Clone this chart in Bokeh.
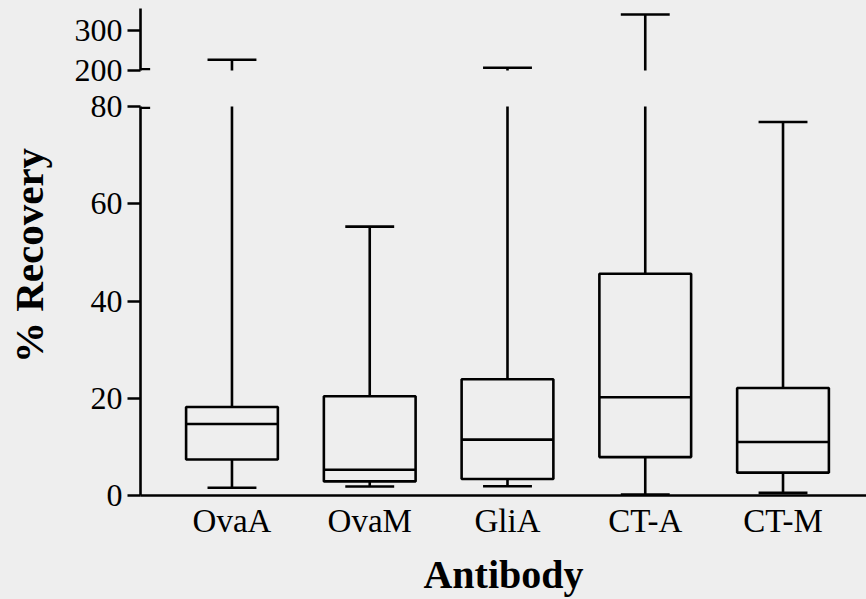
import math
from bokeh.plotting import figure
from bokeh.layouts import column, row
from bokeh.models import Range1d, FixedTicker
from bokeh.core.properties import value
from bokeh.embed import file_html
from bokeh.resources import INLINE

# ---- data ----
antibodies = ["OvaA", "OvaM", "GliA", "CT-A", "CT-M"]
whisker_min = [1.6, 1.85, 1.9, 0.2, 0.55]
q1 = [7.4, 2.9, 3.4, 7.9, 4.7]
median = [14.7, 5.3, 11.5, 20.2, 11.0]
q3 = [18.2, 20.4, 23.9, 45.6, 22.1]
whisker_max = [227, 55.3, 207, 340, 76.8]
lower_ticks = [0, 20, 40, 60, 80]
upper_ticks = [200, 300]
lower_limits = (0, 80)
upper_limits = (200, 355)
y_title = "% Recovery"
x_title = "Antibody"

# ---- style / layout (pixels) ----
BG = "#eeeeee"
FONT = "Liberation Serif"
LW = 2.6
BOX_W = 0.666
CAP_W = 0.355
TOTAL_W = 866
TOTAL_H = 599
TITLE_W = 55          # strip holding the y title
W = TOTAL_W - TITLE_W
LEFT = 140 - TITLE_W  # frame left edge sits at page x = 140
TOP_BORDER = 8
TOP_FRAME_H = 62
GAP_TOP = 18
GAP_BOT = 18
LOW_FRAME_H = 389
BOTTOM = 104
TITLE_CX = 28         # page x of the y-title centre
TITLE_CY = 255        # page y of the y-title centre (middle of the whole broken axis)

pos = [i + 1 for i in range(len(antibodies))]
x_range = Range1d(0.336, 5.606)


def style_y(p, ticks):
    ax = p.yaxis[0]
    ax.ticker = FixedTicker(ticks=ticks, minor_ticks=[])
    ax.axis_line_width = LW
    ax.axis_line_color = "black"
    ax.major_tick_line_width = LW
    ax.major_tick_line_color = "black"
    ax.major_tick_out = 13
    ax.major_tick_in = 0
    ax.minor_tick_line_color = None
    ax.major_label_text_font = FONT
    ax.major_label_text_font_size = "32px"
    ax.major_label_text_color = "black"
    ax.major_label_standoff = 5


def make_fig(height, y_lim, border_top, border_bottom, with_x):
    p = figure(width=W, height=height, x_range=x_range,
               y_range=Range1d(*y_lim),
               output_backend="svg", toolbar_location=None,
               x_axis_location="below" if with_x else None,
               min_border_left=LEFT, min_border_right=0,
               min_border_top=border_top, min_border_bottom=border_bottom)
    p.background_fill_color = BG
    p.border_fill_color = BG
    p.outline_line_color = None
    p.grid.visible = False
    # boxes
    p.quad(left=[x - BOX_W / 2 for x in pos], right=[x + BOX_W / 2 for x in pos],
           bottom=q1, top=q3, fill_color=None, line_color="black", line_width=LW)
    # medians
    p.segment(x0=[x - BOX_W / 2 for x in pos], x1=[x + BOX_W / 2 for x in pos],
              y0=median, y1=median, line_color="black", line_width=LW)
    # whiskers
    p.segment(x0=pos, x1=pos, y0=q3, y1=whisker_max, line_color="black", line_width=LW)
    p.segment(x0=pos, x1=pos, y0=q1, y1=whisker_min, line_color="black", line_width=LW)
    # caps
    p.segment(x0=[x - CAP_W / 2 for x in pos], x1=[x + CAP_W / 2 for x in pos],
              y0=whisker_max, y1=whisker_max, line_color="black", line_width=LW)
    p.segment(x0=[x - CAP_W / 2 for x in pos], x1=[x + CAP_W / 2 for x in pos],
              y0=whisker_min, y1=whisker_min, line_color="black", line_width=LW)
    return p


top = make_fig(TOP_BORDER + TOP_FRAME_H + GAP_TOP, upper_limits, TOP_BORDER, GAP_TOP, False)
style_y(top, upper_ticks)

low = make_fig(GAP_BOT + LOW_FRAME_H + BOTTOM, lower_limits, GAP_BOT, BOTTOM, True)
style_y(low, lower_ticks)

xa = low.xaxis[0]
xa.ticker = FixedTicker(ticks=pos, minor_ticks=[])
xa.major_label_overrides = {p_: name for p_, name in zip(pos, antibodies)}
xa.axis_line_width = LW
xa.axis_line_color = "black"
xa.major_tick_line_color = None
xa.minor_tick_line_color = None
xa.major_tick_out = 0
xa.major_tick_in = 0
xa.major_label_text_font = FONT
xa.major_label_text_font_size = "33px"
xa.major_label_text_color = "black"
xa.major_label_standoff = 7
xa.axis_label = x_title
xa.axis_label_text_font = FONT
xa.axis_label_text_font_style = "bold"
xa.axis_label_text_font_size = "40px"
xa.axis_label_text_color = "black"
xa.axis_label_standoff = 10

# inward break marks at the ends of the two y-axis segments
inw = 0.07
half_lw_low = (LW / 2) * (lower_limits[1] - lower_limits[0]) / LOW_FRAME_H
half_lw_top = (LW / 2) * (upper_limits[1] - upper_limits[0]) / TOP_FRAME_H
low.segment(x0=[x_range.start], x1=[x_range.start + inw],
            y0=[lower_limits[1] - half_lw_low], y1=[lower_limits[1] - half_lw_low],
            line_color="black", line_width=LW)
top.segment(x0=[x_range.start], x1=[x_range.start + inw],
            y0=[upper_limits[0] + half_lw_top], y1=[upper_limits[0] + half_lw_top],
            line_color="black", line_width=LW)

# narrow strip on the left that carries the y title, centred on the whole broken axis
title_fig = figure(width=TITLE_W, height=TOTAL_H,
                   x_range=Range1d(0, TITLE_W), y_range=Range1d(0, TOTAL_H),
                   output_backend="svg", toolbar_location=None,
                   x_axis_location=None, y_axis_location=None,
                   min_border_left=0, min_border_right=0,
                   min_border_top=0, min_border_bottom=0)
title_fig.background_fill_color = BG
title_fig.border_fill_color = BG
title_fig.outline_line_color = None
title_fig.grid.visible = False
title_fig.text(x=[TITLE_CX], y=[TOTAL_H - TITLE_CY], text=[y_title],
               angle=math.pi / 2, text_align="center", text_baseline="middle",
               text_font=value(FONT), text_font_style="bold",
               text_font_size="41px", text_color="black")

layout = row(title_fig, column(top, low, spacing=0), spacing=0)
html = file_html(layout, INLINE)
html = html.replace("</head>", "<style>html, body { background: %s; }</style></head>" % BG, 1)
open("out.html", "w").write(html)
